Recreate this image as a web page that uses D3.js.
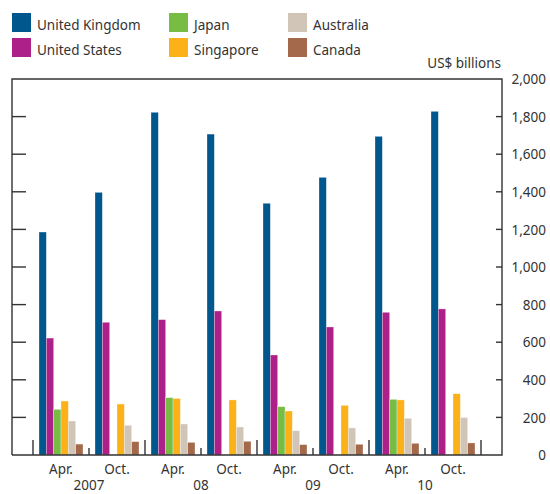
<!DOCTYPE html>
<html>
<head>
<meta charset="utf-8">
<script src="https://cdn.jsdelivr.net/npm/d3@7"></script>
<style>
  body { margin: 0; background: #fff; }
  svg text { font-family: "Noto Sans", "Open Sans", sans-serif; fill: #333; }
</style>
</head>
<body>
<div id="chart"></div>
<script>
// survey dates (April / October of each year)
var periods = ['Apr07', 'Oct07', 'Apr08', 'Oct08', 'Apr09', 'Oct09', 'Apr10', 'Oct10'];
var periodLabels = ['Apr.', 'Oct.', 'Apr.', 'Oct.', 'Apr.', 'Oct.', 'Apr.', 'Oct.'];
var yearLabels = ['2007', '08', '09', '10'];

var series = ['United Kingdom', 'United States', 'Japan', 'Singapore', 'Australia', 'Canada'];
var colors = ['#00578e', '#ad1f89', '#77bd43', '#fdb118', '#d1c5b8', '#a4694b'];

// US$ billions, Japan only surveyed in April
var unitedKingdom = [1186, 1397, 1823, 1707, 1339, 1477, 1695, 1828];
var unitedStates  = [622, 706, 720, 766, 532, 681, 759, 777];
var japan         = [243, null, 305, null, 257, null, 296, null];
var singapore     = [287, 271, 301, 293, 234, 264, 293, 326];
var australia     = [181, 158, 165, 149, 129, 144, 195, 199];
var canada        = [58, 71, 67, 73, 55, 57, 62, 64];

var yTicks = [0, 200, 400, 600, 800, 1000, 1200, 1400, 1600, 1800, 2000];

var values = [unitedKingdom, unitedStates, japan, singapore, australia, canada];

var chart = { width: 550, height: 494, left: 12, right: 502, top: 79, bottom: 455 };

var svg = d3.select('#chart').append('svg')
            .attr('width', chart.width)
            .attr('height', chart.height);

var y = d3.scaleLinear().domain([0, 2000]).range([chart.bottom, chart.top]);

var x0 = d3.scaleBand().domain(periods).range([33, 481]);

var x1 = d3.scaleBand().domain(series).range([6, x0.bandwidth() - 6]);

// bars
var rows = [];
periods.forEach(function(p, i) {
  series.forEach(function(s, j) {
    if (values[j][i] != null)
      rows.push({ period: p, series: s, value: values[j][i], color: colors[j] });
  });
});

svg.append('g').selectAll('rect')
   .data(rows).enter()
   .append('rect')
   .attr('x', function(d) { return x0(d.period) + x1(d.series); })
   .attr('y', function(d) { return y(d.value); })
   .attr('width', x1.bandwidth())
   .attr('height', function(d) { return y(0) - y(d.value); })
   .attr('fill', function(d) { return d.color; })
   .attr('stroke', '#fff')
   .attr('stroke-opacity', 0.5)
   .attr('stroke-width', 0.6);

// frame: left, top, right axis and baseline
var axisColor = '#333';
svg.append('path')
   .attr('d', 'M' + chart.left + ',' + chart.bottom + 'V' + chart.top + 'H' + chart.right +
              'V' + chart.bottom + 'H' + chart.left)
   .attr('fill', 'none')
   .attr('stroke', axisColor)
   .attr('stroke-width', 1.4);

// right axis with labels
var yAxisRight = d3.axisRight(y).tickValues(yTicks).tickSize(0).tickFormat(d3.format(','));
var gRight = svg.append('g')
   .attr('transform', 'translate(' + chart.right + ',0)')
   .call(yAxisRight);
gRight.select('.domain').remove();
gRight.selectAll('text')
      .attr('x', 44)
      .attr('dy', '0.35em')
      .style('text-anchor', 'end')
      .style('font-size', '13.5px')
      .style('font-family', '"Noto Sans", sans-serif')
      .attr('fill', '#333');

// inward tick marks on both sides
var innerTicks = yTicks.filter(function(t) { return t > 0 && t < 2000; });
svg.append('g').selectAll('line')
   .data(innerTicks).enter()
   .append('line')
   .attr('x1', chart.left).attr('x2', chart.left + 14)
   .attr('y1', function(d) { return y(d); })
   .attr('y2', function(d) { return y(d); })
   .attr('stroke', axisColor).attr('stroke-width', 1.4);
svg.append('g').selectAll('line')
   .data(innerTicks).enter()
   .append('line')
   .attr('x1', chart.right - 6).attr('x2', chart.right)
   .attr('y1', function(d) { return y(d); })
   .attr('y2', function(d) { return y(d); })
   .attr('stroke', axisColor).attr('stroke-width', 1.4);

// separator ticks between survey dates: tall at year starts, short mid-year
var seps = periods.map(function(p) { return x0(p); }).concat([x0.range()[1]]);
svg.append('g').selectAll('line')
   .data(seps).enter()
   .append('line')
   .attr('x1', function(d) { return d; })
   .attr('x2', function(d) { return d; })
   .attr('y1', function(d, i) { return i % 2 === 0 ? chart.bottom - 15 : chart.bottom - 7; })
   .attr('y2', chart.bottom)
   .attr('stroke', axisColor).attr('stroke-width', 1.4);

// period labels
svg.append('g').selectAll('text')
   .data(periods).enter()
   .append('text')
   .attr('x', function(d) { return x0(d) + x0.bandwidth() / 2; })
   .attr('y', 474)
   .style('text-anchor', 'middle')
   .style('font-size', '13.5px')
   .text(function(d, i) { return periodLabels[i]; });

// year labels under the Apr/Oct boundary
svg.append('g').selectAll('text')
   .data(yearLabels).enter()
   .append('text')
   .attr('x', function(d, i) { return x0(periods[i * 2 + 1]); })
   .attr('y', 490)
   .style('text-anchor', 'middle')
   .style('font-size', '13.5px')
   .text(function(d) { return d; });

// units
svg.append('text')
   .attr('x', 501)
   .attr('y', 68)
   .style('text-anchor', 'end')
   .style('font-size', '13.5px')
   .text('US$ billions');

// legend: three columns of two
var legendX = [12, 169, 288];
var legend = svg.append('g').selectAll('g')
   .data(series).enter()
   .append('g')
   .attr('transform', function(d, i) {
     return 'translate(' + legendX[Math.floor(i / 2)] + ',' + (13 + (i % 2) * 25) + ')';
   });

legend.append('rect')
      .attr('width', 19)
      .attr('height', 19)
      .attr('fill', function(d, i) { return colors[i]; });

legend.append('text')
      .attr('x', 25)
      .attr('y', 17)
      .style('font-size', '13.5px')
      .text(function(d) { return d; });
</script>
</body>
</html>
